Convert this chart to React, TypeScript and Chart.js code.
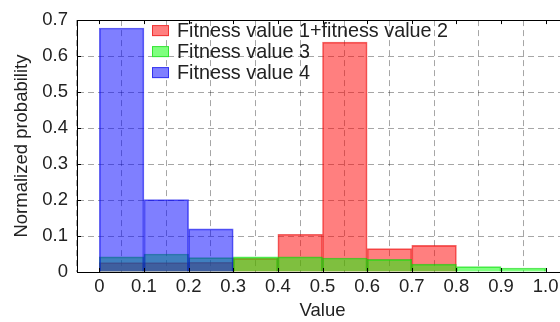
import { useEffect, useRef } from 'react';
import { Chart, registerables } from 'chart.js';

Chart.register(...registerables);

const binCenters = [0.05, 0.15, 0.25, 0.35, 0.45, 0.55, 0.65, 0.75, 0.85, 0.95];
const seriesLabels = ['Fitness value 1+fitness value 2', 'Fitness value 3', 'Fitness value 4'];
const fitness12 = [0.026, 0.026, 0.027, 0.038, 0.105, 0.639, 0.065, 0.074, 0, 0];
const fitness3 = [0.042, 0.05, 0.04, 0.042, 0.042, 0.039, 0.035, 0.022, 0.015, 0.011];
const fitness4 = [0.678, 0.201, 0.12, 0, 0, 0, 0, 0, 0, 0];
const xTicks = [0, 0.1, 0.2, 0.3, 0.4, 0.5, 0.6, 0.7, 0.8, 0.9, 1.0];
const yTicks = [0, 0.1, 0.2, 0.3, 0.4, 0.5, 0.6, 0.7];

const FONT = "'Liberation Sans', Arial, Helvetica, sans-serif";

const fills = ['rgba(255,0,0,0.5)', 'rgba(0,255,0,0.5)', 'rgba(0,0,255,0.5)'];
const edges = ['rgba(230,0,0,0.6)', 'rgba(0,210,0,0.6)', 'rgba(0,0,230,0.6)'];

const fmt = (v: number) => (v === 0 ? '0' : Number(v).toFixed(1));

const framePlugin = {
  id: 'frameAndLegend',
  afterDraw(chart: any) {
    const { ctx, chartArea } = chart;
    const { left, right, top, bottom } = chartArea;
    const xs = chart.scales.x;
    const ys = chart.scales.y;
    ctx.save();
    ctx.strokeStyle = '#000';
    ctx.lineWidth = 1;
    ctx.setLineDash([]);
    // top frame line
    ctx.beginPath();
    ctx.moveTo(left, Math.round(top) + 0.5);
    ctx.lineTo(right, Math.round(top) + 0.5);
    ctx.stroke();
    // inward ticks
    ctx.beginPath();
    xTicks.forEach((v) => {
      const px = Math.round(xs.getPixelForValue(v)) + 0.5;
      ctx.moveTo(px, bottom);
      ctx.lineTo(px, bottom - 4);
      ctx.moveTo(px, top);
      ctx.lineTo(px, top + 4);
    });
    yTicks.forEach((v) => {
      const py = Math.round(ys.getPixelForValue(v)) + 0.5;
      ctx.moveTo(left, py);
      ctx.lineTo(left + 4, py);
    });
    ctx.stroke();
    // legend
    const lx = left + 75;
    const ly = top + 10.5;
    ctx.font = `19.8px ${FONT}`;
    ctx.textBaseline = 'middle';
    ctx.textAlign = 'left';
    seriesLabels.forEach((label, i) => {
      const cy = ly + i * 21;
      ctx.fillStyle = '#fff';
      ctx.fillRect(lx, cy - 5.5, 17, 11);
      ctx.fillStyle = fills[i];
      ctx.fillRect(lx, cy - 5.5, 17, 11);
      ctx.strokeStyle = edges[i];
      ctx.strokeRect(lx + 0.5, cy - 5, 16, 10);
      ctx.fillStyle = '#222';
      ctx.fillText(label, lx + 25, cy + 1);
    });
    ctx.restore();
  },
};

export default function App() {
  const ref = useRef<HTMLCanvasElement | null>(null);
  useEffect(() => {
    if (!ref.current) return;
    const series = [fitness12, fitness3, fitness4];
    const chart = new Chart(ref.current, {
      type: 'bar',
      data: {
        datasets: series.map((vals, i) => ({
          label: seriesLabels[i],
          data: binCenters.map((x, j) => ({ x, y: vals[j] })),
          backgroundColor: fills[i],
          borderColor: edges[i],
          borderWidth: 1,
          barPercentage: 1,
          categoryPercentage: 1,
          grouped: false,
          order: 3 - i,
        })),
      },
      options: {
        animation: false,
        responsive: true,
        maintainAspectRatio: false,
        layout: { padding: { top: 18, left: 0, right: 0, bottom: 0 } },
        plugins: { legend: { display: false }, tooltip: { enabled: false } },
        scales: {
          x: {
            type: 'linear',
            min: -0.05,
            max: 1.05,
            offset: false,
            z: 1,
            afterBuildTicks: (s: any) => {
              s.ticks = xTicks.map((v) => ({ value: v }));
            },
            afterFit: (s: any) => {
              s.height = 50;
            },
            ticks: {
              callback: (v: any) => fmt(Number(v)),
              font: { family: FONT, size: 18.5 },
              color: '#222',
              padding: 4,
              maxRotation: 0,
              autoSkip: false,
            },
            grid: { color: 'rgba(0,0,0,0.35)', drawTicks: false, lineWidth: 1 },
            border: { display: true, color: '#000', width: 1, dash: [6, 4] },
            title: {
              display: true,
              text: 'Value',
              font: { family: FONT, size: 18.5 },
              color: '#222',
              padding: { top: 0, bottom: 0 },
            },
          },
          y: {
            min: 0,
            max: 0.7,
            z: 1,
            afterBuildTicks: (s: any) => {
              s.ticks = yTicks.map((v) => ({ value: v }));
            },
            afterFit: (s: any) => {
              s.width = 77;
            },
            ticks: {
              callback: (v: any) => fmt(Number(v)),
              font: { family: FONT, size: 18.5 },
              color: '#222',
              padding: 9,
            },
            grid: { color: 'rgba(0,0,0,0.35)', drawTicks: false, lineWidth: 1 },
            border: { display: true, color: '#000', width: 1, dash: [6, 4] },
            title: {
              display: true,
              text: 'Normalized probability',
              font: { family: FONT, size: 18.5 },
              color: '#222',
              padding: { top: 11, bottom: 0 },
            },
          },
        },
      },
      plugins: [framePlugin],
    });
    return () => chart.destroy();
  }, []);
  return (
    <div style={{ position: 'fixed', left: 0, top: 0, width: 560, height: 322, overflow: 'hidden', background: '#fff' }}>
      <div style={{ position: 'relative', width: 568, height: 322 }}>
        <canvas ref={ref} />
      </div>
    </div>
  );
}
